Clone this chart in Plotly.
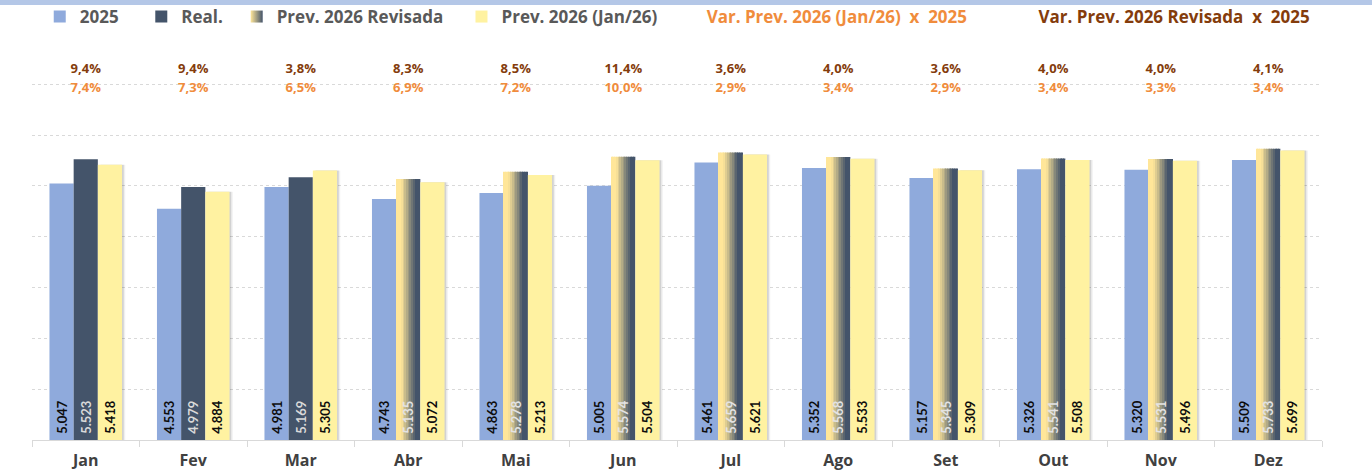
import plotly.graph_objects as go

# ---------------- data ----------------
months = ["Jan", "Fev", "Mar", "Abr", "Mai", "Jun", "Jul", "Ago", "Set", "Out", "Nov", "Dez"]
v2025 = [5047, 4553, 4981, 4743, 4863, 5005, 5461, 5352, 5157, 5326, 5320, 5509]
real = [5523, 4979, 5169, None, None, None, None, None, None, None, None, None]
revisada = [None, None, None, 5135, 5278, 5574, 5659, 5568, 5345, 5541, 5531, 5733]
prev_jan = [5418, 4884, 5305, 5072, 5213, 5504, 5621, 5533, 5309, 5508, 5496, 5699]
var_rev_pct = [9.4, 9.4, 3.8, 8.3, 8.5, 11.4, 3.6, 4.0, 3.6, 4.0, 4.0, 4.1]
var_jan_pct = [7.4, 7.3, 6.5, 6.9, 7.2, 10.0, 2.9, 3.4, 2.9, 3.4, 3.3, 3.4]

# ---------------- styles ----------------
FONT = "Open Sans"
NUMFONT = "Lato"
C2025 = "#8FAADC"
CREAL = "#44546A"
CREV_L = "#FFE699"
CJAN = "#FFF2A1"
CORANGE = "#F08C3C"
CBROWN = "#843C0C"
BW = 0.225  # bar width in category units
NB = "\u00a0"


def fmt_num(v):
    return "" if v is None else NB + f"{v:,}".replace(",", ".")


def fmt_pct(p):
    return f"{p:.1f}%".replace(".", ",")


def mix(c1, c2, t):
    a = [int(c1[i:i + 2], 16) for i in (1, 3, 5)]
    b = [int(c2[i:i + 2], 16) for i in (1, 3, 5)]
    return "rgb(%d,%d,%d)" % tuple(round(a[k] + (b[k] - a[k]) * t) for k in range(3))


fig = go.Figure()

bar_text_font = dict(family=NUMFONT, size=13, weight="bold")

# 2025
fig.add_trace(go.Bar(
    name="2025" + NB * 4, x=months, y=v2025, offset=-1.5 * BW, width=BW,
    marker=dict(color=C2025, line=dict(width=0)),
    text=[fmt_num(v) for v in v2025], textposition="inside", insidetextanchor="start",
    textangle=-90, textfont=dict(bar_text_font, color="#0D0D0D"), constraintext="none",
))

# Real.
fig.add_trace(go.Bar(
    name="Real." + NB * 2, x=months, y=real, offset=-0.5 * BW, width=BW,
    marker=dict(color=CREAL, line=dict(width=0)),
    text=[fmt_num(v) for v in real], textposition="inside", insidetextanchor="start",
    textangle=-90, textfont=dict(bar_text_font, color="#D9D9D9"), constraintext="none",
))

# Prev. 2026 Revisada - legend entry (gradient square)
fig.add_trace(go.Scatter(
    name="Prev. 2026 Revisada" + NB * 3, x=[None], y=[None], mode="markers",
    marker=dict(symbol="square", size=13, color=CREV_L,
                gradient=dict(type="horizontal", color=CREAL), line=dict(width=0)),
))

# Revisada gradient bars drawn as thin strips
N = 14
sw = BW / N
for i in range(N):
    s = (i + 0.5) / N
    t = min(max((s - 0.22) / 0.6, 0), 1)
    fig.add_trace(go.Bar(
        x=months, y=revisada, offset=-0.5 * BW + i * sw, width=sw * 1.15 if i < N - 1 else sw,
        marker=dict(color=mix(CREV_L, CREAL, t), line=dict(width=0)),
        showlegend=False, hoverinfo="skip",
    ))
# Revisada labels (transparent bar carrying the text)
fig.add_trace(go.Bar(
    x=months, y=revisada, offset=-0.5 * BW, width=BW,
    marker=dict(color="rgba(0,0,0,0)", line=dict(width=0)),
    text=[fmt_num(v) for v in revisada], textposition="inside", insidetextanchor="start",
    textangle=-90, textfont=dict(bar_text_font, color="#E3E3E3"), constraintext="none",
    showlegend=False, name="Prev. 2026 Revisada",
))

# shadow of Jan/26 bars
for dx, a in ((0.03, 0.06), (0.016, 0.12)):
    fig.add_trace(go.Bar(
        x=months, y=prev_jan, offset=0.5 * BW + dx, width=BW,
        marker=dict(color=f"rgba(0,0,0,{a})", line=dict(width=0)),
        showlegend=False, hoverinfo="skip",
    ))

# Prev. 2026 (Jan/26)
fig.add_trace(go.Bar(
    name="Prev. 2026 (Jan/26)" + NB, x=months, y=prev_jan, offset=0.5 * BW, width=BW,
    marker=dict(color=CJAN, line=dict(width=0)),
    text=[fmt_num(v) for v in prev_jan], textposition="inside", insidetextanchor="start",
    textangle=-90, textfont=dict(bar_text_font, color="#0D0D0D"), constraintext="none",
))

# legend-only text entries for the variation rows
fig.add_trace(go.Scatter(
    name=f'<span style="color:{CORANGE}">Var. Prev. 2026 (Jan/26)  x  2025</span>' + NB * 6,
    x=[None], y=[None], mode="lines", line=dict(color="rgba(0,0,0,0)", width=0),
))
fig.add_trace(go.Scatter(
    name=f'<span style="color:{CBROWN}">Var. Prev. 2026 Revisada  x  2025</span>',
    x=[None], y=[None], mode="lines", line=dict(color="rgba(0,0,0,0)", width=0),
))

# variation labels
fig.add_trace(go.Scatter(
    x=months, y=[7280] * len(months), mode="text", text=[fmt_pct(p) for p in var_rev_pct],
    textposition="middle center", textfont=dict(family=FONT, size=13, color=CBROWN, weight="bold"),
    showlegend=False, cliponaxis=False, hoverinfo="skip",
))
fig.add_trace(go.Scatter(
    x=months, y=[6920] * len(months), mode="text", text=[fmt_pct(p) for p in var_jan_pct],
    textposition="middle center", textfont=dict(family=FONT, size=13, color=CORANGE, weight="bold"),
    showlegend=False, cliponaxis=False, hoverinfo="skip",
))

fig.update_layout(
    width=1372, height=475,
    margin=dict(l=32, r=50, t=34, b=35, autoexpand=False),
    barmode="overlay",
    plot_bgcolor="white", paper_bgcolor="white",
    font=dict(family=FONT, color="#595959"),
    showlegend=True,
    legend=dict(orientation="h", x=0.006, xanchor="left", yref="container", y=1 - 17 / 475,
                yanchor="middle",
                font=dict(family=FONT, size=17, color="#595959", weight="bold"),
                bgcolor="rgba(0,0,0,0)", itemsizing="constant", traceorder="normal"),
    xaxis=dict(type="category", range=[-0.5, 11.5], showgrid=False, showline=True,
               linecolor="#D9D9D9", linewidth=1,
               ticks="outside", tickson="boundaries", ticklen=6, tickcolor="#D9D9D9",
               tickfont=dict(family=FONT, size=16, color="#404040", weight="bold"),
               ticklabelstandoff=6, fixedrange=True),
    yaxis=dict(range=[0, 7990], dtick=1000, showgrid=True, gridcolor="#D9D9D9", griddash="dot",
               gridwidth=1, showticklabels=False, zeroline=False, fixedrange=True),
    shapes=[dict(type="rect", xref="paper", yref="paper", x0=-0.05, x1=1.05,
                 y0=1 + 29 / 406, y1=1 + 40 / 406, fillcolor="#B4C7E7", line=dict(width=0),
                 layer="above")],
)

fig.write_html("out.html", post_script="document.body.style.margin='0';",
               config={"displayModeBar": False, "responsive": False})
